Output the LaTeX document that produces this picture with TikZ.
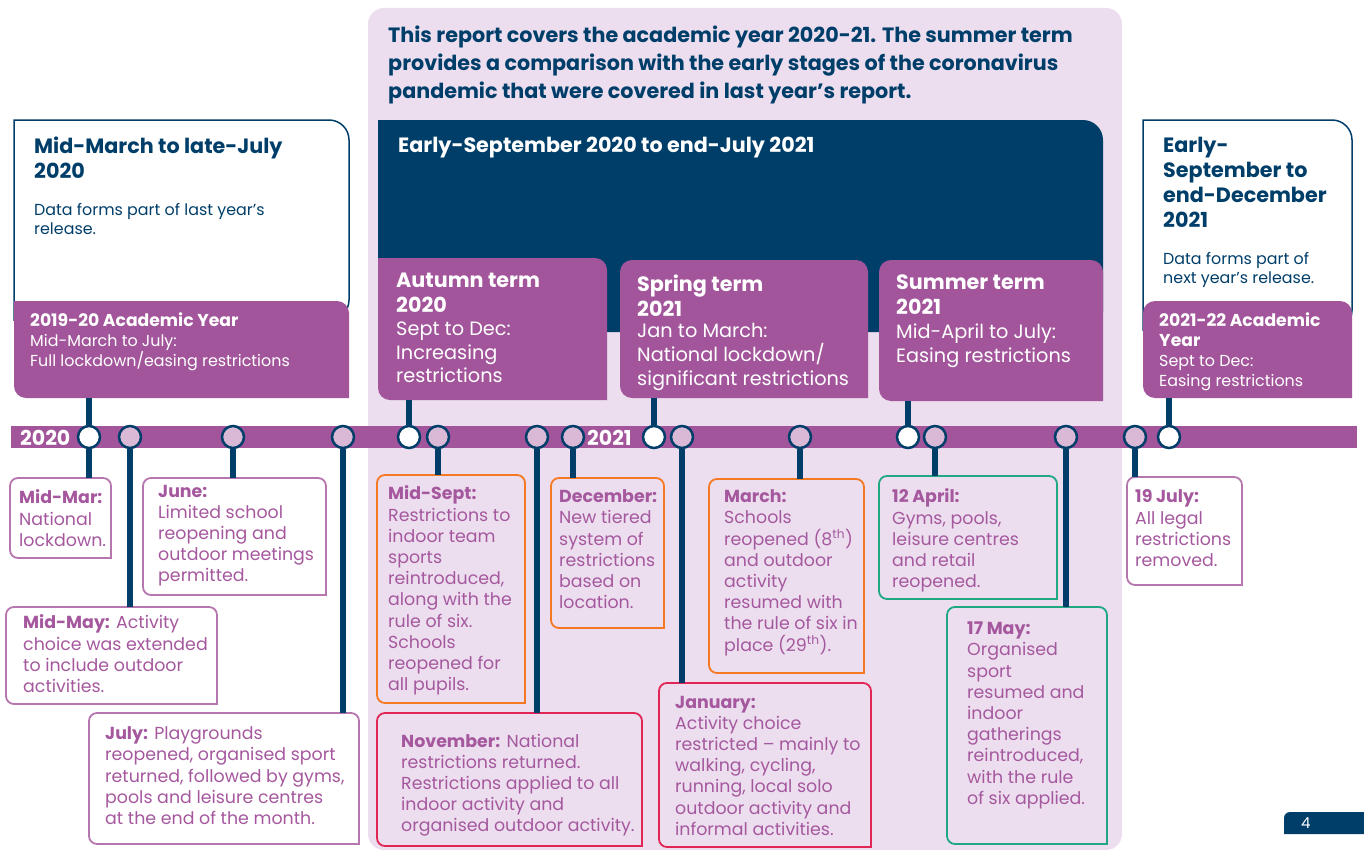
\documentclass[tikz,border=0pt]{standalone}
\usepackage{fontspec}
\setmainfont{Poppins}
\definecolor{navyblue}{RGB}{0, 62, 106}
\definecolor{termpurple}{RGB}{162, 85, 155}
\definecolor{panellilac}{RGB}{236, 222, 239}
\definecolor{dotlilac}{RGB}{217, 185, 214}
\definecolor{notepurple}{RGB}{165, 88, 158}
\definecolor{edgepurple}{RGB}{182, 118, 174}
\definecolor{edgeorange}{RGB}{245, 120, 35}
\definecolor{edgered}{RGB}{225, 38, 85}
\definecolor{edgegreen}{RGB}{32, 168, 130}

\begin{document}
\begin{tikzpicture}[
    x=1pt, y=-1pt,
    spot/.style={rectangle, anchor=north west, inner sep=0pt, outer sep=0pt},
    words/.style={anchor=north west, inner sep=0pt, align=left},
    note/.style={words, text=notepurple, font=\fontsize{17.4}{21.2}\selectfont},
    headline/.style={words, font=\bfseries\fontsize{20.7}{25}\selectfont},
    termtext/.style={words, text=white, font=\fontsize{19.3}{23.7}\selectfont},
    yeartext/.style={words, text=white, font=\fontsize{15.9}{20}\selectfont},
    boxline/.style={line width=1.8pt},
    dot/.style={circle, draw=navyblue, line width=2.5pt, minimum size=22pt, inner sep=0pt, fill=dotlilac},
    opendot/.style={dot, fill=white},
    stem/.style={draw=navyblue, line width=6pt},
]
\useasboundingbox (0,0) rectangle (1364,851);

% Report panel
\fill[panellilac, rounded corners=16pt] (368,8) rectangle (1122,850);
\node[words, text=navyblue, font=\bfseries\fontsize{20.7}{28}\selectfont] (intro) at (388,26) {This report covers the academic year 2020-21. The summer term\\provides a comparison with the early stages of the coronavirus\\pandemic that were covered in last year’s report.};

% Period boxes
\node[spot, minimum width=335pt, minimum height=200pt] (lastyear) at (14,120) {};
\draw[navyblue, line width=1.5pt, fill=white] (lastyear.south west) -- (lastyear.north west) [rounded corners=20pt] -- (lastyear.north east) -- (lastyear.south east) [sharp corners] -- cycle;
\node[spot, minimum width=725pt, minimum height=212pt] (thisyear) at (378,120) {};
\fill[navyblue] (thisyear.south west) -- (thisyear.north west) [rounded corners=20pt] -- (thisyear.north east) -- (thisyear.south east) [sharp corners] -- cycle;
\node[spot, minimum width=209pt, minimum height=210pt] (nextyear) at (1143,120) {};
\draw[navyblue, line width=1.5pt, fill=white] (nextyear.south west) -- (nextyear.north west) [rounded corners=20pt] -- (nextyear.north east) -- (nextyear.south east) [sharp corners] -- cycle;

\node[headline, text=navyblue] (lasttitle) at (34,136.5) {Mid-March to late-July\\2020};
\node[words, text=navyblue, font=\fontsize{15.9}{19}\selectfont] (lastnote) at (34,203.5) {Data forms part of last year’s\\release.};
\node[words, text=white, font=\bfseries\fontsize{20.7}{24}\selectfont] (thistitle) at (398,136.5) {Early-September 2020 to end-July 2021};
\node[headline, text=navyblue] (nexttitle) at (1163,136.5) {Early-\\September to\\end-December\\2021};
\node[words, text=navyblue, font=\fontsize{15.9}{19}\selectfont] (nextnote) at (1163,252.5) {Data forms part of\\next year's release.};

% Terms
\node[spot, minimum width=335pt, minimum height=97pt] (yr1920) at (14,301) {};
\node[spot, minimum width=229pt, minimum height=142pt] (autumn) at (378,258) {};
\node[spot, minimum width=248pt, minimum height=138pt] (spring) at (620,260) {};
\node[spot, minimum width=224pt, minimum height=141pt] (summer) at (879,260) {};
\node[spot, minimum width=209pt, minimum height=97pt] (yr2122) at (1143,301) {};
\fill[termpurple] (yr1920.east) -- (yr1920.south east) [rounded corners=12pt] -- (yr1920.south west) [sharp corners] -- (yr1920.north west) [rounded corners=12pt] -- (yr1920.north east) -- cycle;
\fill[termpurple] (autumn.east) -- (autumn.south east) [rounded corners=12pt] -- (autumn.south west) [sharp corners] -- (autumn.north west) [rounded corners=12pt] -- (autumn.north east) -- cycle;
\fill[termpurple] (spring.east) -- (spring.south east) [rounded corners=12pt] -- (spring.south west) -- (spring.north west) -- (spring.north east) -- cycle;
\fill[termpurple] (summer.east) -- (summer.south east) [rounded corners=12pt] -- (summer.south west) -- (summer.north west) -- (summer.north east) -- cycle;
\fill[termpurple] (yr2122.east) -- (yr2122.south east) [rounded corners=12pt] -- (yr2122.south west) -- (yr2122.north west) -- (yr2122.north east) -- cycle;

\node[yeartext] (yr1920text) at (30,313) {{\bfseries\fontsize{17.2}{20}\selectfont 2019-20 Academic Year}\\Mid-March to July:\\Full lockdown/easing restrictions};
\node[headline, text=white] (autumntitle) at (396,272.5) {Autumn term\\2020};
\node[termtext] (autumntext) at (396,321.5) {Sept to Dec:\\Increasing\\restrictions};
\node[headline, text=white] (springtitle) at (637,274.5) {Spring term\\2021};
\node[termtext] (springtext) at (637,323.5) {Jan to March:\\National lockdown/\\significant restrictions};
\node[headline, text=white] (summertitle) at (896,274.5) {Summer term\\2021};
\node[termtext] (summertext) at (896,323.5) {Mid-April to July:\\Easing restrictions};
\node[yeartext] (yr2122text) at (1159,313) {{\bfseries\fontsize{17.2}{20}\selectfont 2021-22 Academic}\\{\bfseries\fontsize{17.2}{20}\selectfont Year}\\Sept to Dec:\\Easing restrictions};

% Timeline
\node[fill=termpurple, minimum width=1346pt, minimum height=22pt, inner sep=0pt, anchor=west] (bar) at (11,437) {};
\node[text=white, font=\bfseries\fontsize{20.5}{22}\selectfont, anchor=west, inner sep=0pt] (y2020) at (20,438) {2020};
\node[text=white, font=\bfseries\fontsize{20.5}{22}\selectfont, anchor=west, inner sep=0pt] (y2021) at (587,438) {2021};

% Note boxes
\node[spot, minimum width=101pt, minimum height=80pt] (mar) at (10,478) {};
\node[spot, minimum width=183pt, minimum height=117pt] (jun) at (143,478) {};
\node[spot, minimum width=211pt, minimum height=97pt] (may) at (6,607) {};
\node[spot, minimum width=270pt, minimum height=131pt] (jul) at (89,713) {};
\node[spot, minimum width=148pt, minimum height=228pt] (sep) at (377,475) {};
\node[spot, minimum width=113pt, minimum height=150pt] (dec) at (551,478) {};
\node[spot, minimum width=265pt, minimum height=133pt] (nov) at (377,713) {};
\node[spot, minimum width=155pt, minimum height=194pt] (mch) at (709,479) {};
\node[spot, minimum width=212pt, minimum height=164pt] (jan) at (659,683) {};
\node[spot, minimum width=178pt, minimum height=123pt] (apr) at (879,476) {};
\node[spot, minimum width=160pt, minimum height=237pt] (mayb) at (947,607) {};
\node[spot, minimum width=115pt, minimum height=108pt] (jly) at (1127,477) {};

\draw[boxline, edgepurple, fill=white] (mar.east) -- (mar.south east) [rounded corners=8pt] -- (mar.south west) -- (mar.north west) -- (mar.north east) -- cycle;
\draw[boxline, edgepurple, fill=white] (jun.east) -- (jun.south east) [rounded corners=8pt] -- (jun.south west) -- (jun.north west) -- (jun.north east) -- cycle;
\draw[boxline, edgepurple, fill=white] (may.east) -- (may.south east) [rounded corners=8pt] -- (may.south west) -- (may.north west) -- (may.north east) -- cycle;
\draw[boxline, edgepurple, fill=white] (jul.east) -- (jul.south east) [rounded corners=8pt] -- (jul.south west) -- (jul.north west) -- (jul.north east) -- cycle;
\draw[boxline, edgeorange] (sep.east) -- (sep.south east) [rounded corners=8pt] -- (sep.south west) -- (sep.north west) -- (sep.north east) -- cycle;
\draw[boxline, edgeorange] (dec.east) -- (dec.south east) [rounded corners=8pt] -- (dec.south west) -- (dec.north west) -- (dec.north east) -- cycle;
\draw[boxline, edgered] (nov.east) -- (nov.south east) [rounded corners=8pt] -- (nov.south west) -- (nov.north west) -- (nov.north east) -- cycle;
\draw[boxline, edgeorange] (mch.east) -- (mch.south east) [rounded corners=8pt] -- (mch.south west) -- (mch.north west) -- (mch.north east) -- cycle;
\draw[boxline, edgered] (jan.east) -- (jan.south east) [rounded corners=8pt] -- (jan.south west) -- (jan.north west) -- (jan.north east) -- cycle;
\draw[boxline, edgegreen] (apr.east) -- (apr.south east) [rounded corners=8pt] -- (apr.south west) -- (apr.north west) -- (apr.north east) -- cycle;
\draw[boxline, edgegreen] (mayb.east) -- (mayb.south east) [rounded corners=8pt] -- (mayb.south west) -- (mayb.north west) -- (mayb.north east) -- cycle;
\draw[boxline, edgepurple, fill=white] (jly.east) -- (jly.south east) [rounded corners=8pt] -- (jly.south west) -- (jly.north west) -- (jly.north east) -- cycle;

\node[note] (martext) at (19,489.7) {\textbf{Mid-Mar:}\\National\\lockdown.};
\node[note] (juntext) at (158,484.7) {\textbf{June:}\\Limited school\\reopening and\\outdoor meetings\\permitted.};
\node[note] (maytext) at (23,614.7) {\textbf{Mid-May:} Activity\\choice was extended\\to include outdoor\\activities.};
\node[note] (jultext) at (105,726.7) {\textbf{July:} Playgrounds\\reopened, organised sport\\returned, followed by gyms,\\pools and leisure centres\\at the end of the month.};
\node[note] (septext) at (388,485.7) {\textbf{Mid-Sept:}\\Restrictions to\\indoor team\\sports\\reintroduced,\\along with the\\rule of six.\\Schools\\reopened for\\all pupils.};
\node[note] (dectext) at (559,489.7) {\textbf{December:}\\New tiered\\system of\\restrictions\\based on\\location.};
\node[note] (novtext) at (401,733.7) {\textbf{November:} National\\restrictions returned.\\Restrictions applied to all\\indoor activity and\\organised outdoor activity.};
\node[note] (mchtext) at (724,489.7) {\textbf{March:}\\Schools\\reopened (8\textsuperscript{th})\\and outdoor\\activity\\resumed with\\the rule of six in\\place (29\textsuperscript{th}).};
\node[note] (jantext) at (675,695.7) {\textbf{January:}\\Activity choice\\restricted – mainly to\\walking, cycling,\\running, local solo\\outdoor activity and\\informal activities.};
\node[note] (aprtext) at (892,488.7) {\textbf{12 April:}\\Gyms, pools,\\leisure centres\\and retail\\reopened.};
\node[note] (maybtext) at (967,621.7) {\textbf{17 May:}\\Organised\\sport\\resumed and\\indoor\\gatherings\\reintroduced,\\with the rule\\of six applied.};
\node[note] (jlytext) at (1135,489.7) {\textbf{19 July:}\\All legal\\restrictions\\removed.};

% Dots on the timeline
\node[opendot] (dmar) at (89,437) {};
\node[dot] (dmay) at (130,437) {};
\node[dot] (djun) at (233,437) {};
\node[dot] (djul) at (343,437) {};
\node[opendot] (daut) at (409,437) {};
\node[dot] (dsep) at (438,437) {};
\node[dot] (dnov) at (537,437) {};
\node[dot] (ddec) at (573,437) {};
\node[opendot] (dspr) at (654,437) {};
\node[dot] (djan) at (682,437) {};
\node[dot] (dmch) at (800,437) {};
\node[opendot] (dsum) at (908,437) {};
\node[dot] (dapr) at (935,437) {};
\node[dot] (dmayb) at (1066,437) {};
\node[dot] (djly) at (1135,437) {};
\node[opendot] (dnext) at (1169,437) {};

% Stems up to the terms
\draw[stem] (dmar.north) -- (dmar.north |- yr1920.south);
\draw[stem] (daut.north) -- (daut.north |- autumn.south);
\draw[stem] (dspr.north) -- (dspr.north |- spring.south);
\draw[stem] (dsum.north) -- (dsum.north |- summer.south);
\draw[stem] (dnext.north) -- (dnext.north |- yr2122.south);

% Stems down to the notes
\draw[stem] (dmar.south) -- (dmar.south |- mar.north);
\draw[stem] (dmay.south) -- (dmay.south |- may.north);
\draw[stem] (djun.south) -- (djun.south |- jun.north);
\draw[stem] (djul.south) -- (djul.south |- jul.north);
\draw[stem] (dsep.south) -- (dsep.south |- sep.north);
\draw[stem] (dnov.south) -- (dnov.south |- nov.north);
\draw[stem] (ddec.south) -- (ddec.south |- dec.north);
\draw[stem] (djan.south) -- (djan.south |- jan.north);
\draw[stem] (dmch.south) -- (dmch.south |- mch.north);
\draw[stem] (dapr.south) -- (dapr.south |- apr.north);
\draw[stem] (dmayb.south) -- (dmayb.south |- mayb.north);
\draw[stem] (djly.south) -- (djly.south |- jly.north);

% Page number
\node[spot, minimum width=80pt, minimum height=22pt] (page) at (1284,812) {};
\fill[navyblue] (page.south east) -- (page.south west) [rounded corners=6pt] -- (page.north west) [sharp corners] -- (page.north east) -- cycle;
\node[text=white, font=\fontsize{15}{18}\selectfont, anchor=west, inner sep=0pt] (pagenum) at (1301,823) {4};

\end{tikzpicture}
\end{document}
